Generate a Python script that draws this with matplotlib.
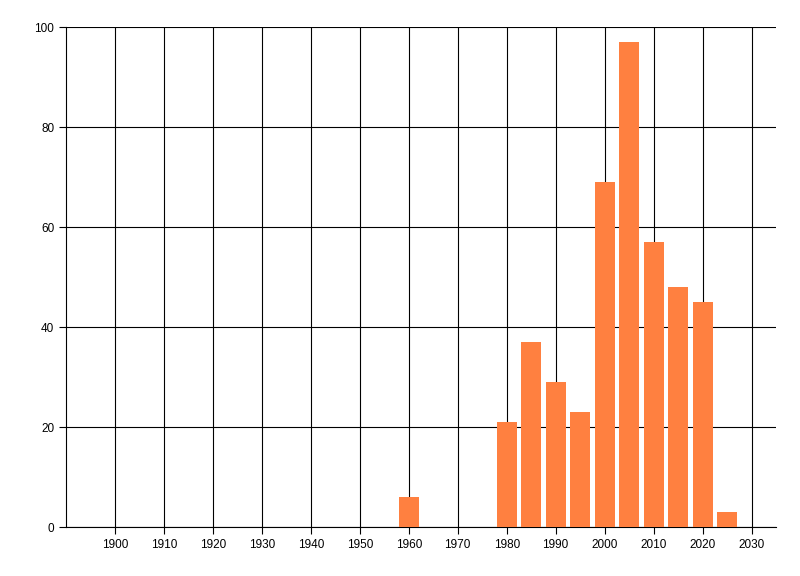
import matplotlib.pyplot as plt

years = [1960, 1980, 1985, 1990, 1995, 2000, 2005, 2010, 2015, 2020, 2025]
counts = [6, 21, 37, 29, 23, 69, 97, 57, 48, 45, 3]
xticks = list(range(1900, 2031, 10))
yticks = [0, 20, 40, 60, 80, 100]

plt.rcParams['font.family'] = ['Liberation Sans', 'DejaVu Sans']

fig = plt.figure(figsize=(8, 5.76), dpi=100)
ax = fig.add_axes([0.0825, 0.085, 0.8875, 0.868])
ax.bar(years, counts, width=4.1, color='#FF8040', zorder=3)

ax.set_xlim(1890, 2035)
ax.set_ylim(0, 100)
ax.set_xticks(xticks)
ax.set_yticks(yticks)
ax.grid(True, color='black', linewidth=0.8)
ax.set_axisbelow(True)
for side in ['top', 'right']:
    ax.spines[side].set_visible(False)
ax.spines['left'].set_linewidth(0.8)
ax.spines['bottom'].set_linewidth(0.8)
ax.tick_params(labelsize=8.5, length=5, width=0.8, colors='black')

fig.savefig('out.png')
